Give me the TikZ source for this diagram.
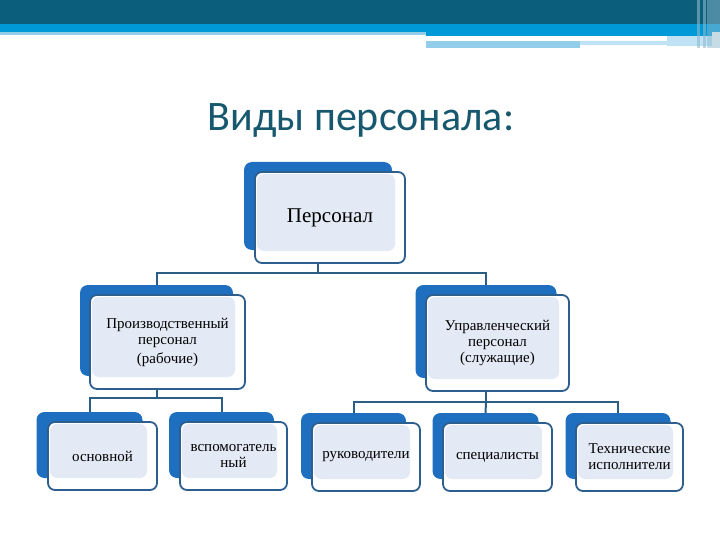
\documentclass[tikz,border=0pt]{standalone}
\usepackage{fontspec}
\setmainfont{Liberation Serif}
\newfontfamily\titlefont{Carlito}
\usetikzlibrary{positioning}
\pgfdeclarelayer{background}
\pgfsetlayers{background,main}
\definecolor{hdrdark}{HTML}{0B5F7C}
\definecolor{hdrblue}{HTML}{0099D8}
\definecolor{hdrlight}{HTML}{92CDEA}
\definecolor{hdrpale}{HTML}{BFE3F4}
\definecolor{hdrgray}{HTML}{8FB8CC}
\definecolor{titlecol}{HTML}{17586F}
\definecolor{backblue}{HTML}{1F6FC0}
\definecolor{frontline}{HTML}{2D5F8E}
\definecolor{lightfill}{HTML}{E3EAF5}
\definecolor{linkcol}{HTML}{2B5E84}
\tikzset{
  backbox/.style={fill=backblue, draw=none, rounded corners=8pt, inner sep=0pt},
  frontbox/.style={fill=white, draw=frontline, line width=1.8pt, rounded corners=7pt,
    inner sep=2pt, align=center, font=\fontsize{15}{16}\selectfont,
    path picture={\fill[lightfill] ([shift={(2pt,-2pt)}]path picture bounding box.north west)
      rectangle ([shift={(-10pt,12pt)}]path picture bounding box.south east);}},
  link/.style={draw=linkcol, line width=2pt}
}
\begin{document}
\begin{tikzpicture}[x=1pt,y=-1pt]
\useasboundingbox (0,0) rectangle (720,540);
% header
\fill[hdrdark] (0,0) rectangle (720,24);
\fill[hdrblue] (0,24) rectangle (720,32);
\fill[hdrlight] (0,32) rectangle (426,35);
\fill[hdrblue] (426,32) rectangle (712,36);
\fill[hdrpale] (667,36) rectangle (712,46);
\fill[hdrlight] (426,41) rectangle (580,48);
\fill[hdrpale] (580,41) rectangle (667,45);
\fill[hdrgray, opacity=0.6] (697,0) rectangle (700,48);
\fill[hdrgray, opacity=0.6] (703,0) rectangle (706,48);
\fill[hdrgray, opacity=0.5] (707,0) rectangle (720,48);
% title
\node[font=\titlefont\fontsize{42}{48}\selectfont, text=titlecol, anchor=base] (title) at (361,131) {Виды персонала:};
% level 0
\node[backbox, minimum width=148pt, minimum height=88pt] (P0b) at (318,206) {};
\node[frontbox, minimum width=150pt, minimum height=91pt, font=\fontsize{21}{23}\selectfont] (P0) at (330,217.5) {Персонал};
% level 1
\node[backbox, minimum width=153pt, minimum height=91pt] (P1b) at (156.5,330.5) {};
\node[frontbox, minimum width=155pt, minimum height=94pt] (P1) at (167.5,342) {Производственный\\персонал\\[3pt](рабочие)};
\node[backbox, minimum width=141pt, minimum height=93pt] (P2b) at (486,331.5) {};
\node[frontbox, minimum width=143pt, minimum height=96pt] (P2) at (497.5,343) {Управленческий\\персонал\\(служащие)};
% level 2
\node[backbox, minimum width=106pt, minimum height=66pt] (C1b) at (89.5,445) {};
\node[frontbox, minimum width=109pt, minimum height=68pt] (C1) at (102.5,456) {основной};
\node[backbox, minimum width=105pt, minimum height=66pt] (C2b) at (221.5,445) {};
\node[frontbox, minimum width=107pt, minimum height=68pt] (C2) at (233.5,456) {вспомогатель\\ный};
\node[backbox, minimum width=105pt, minimum height=66pt] (C3b) at (353.5,446) {};
\node[frontbox, minimum width=108pt, minimum height=68pt] (C3) at (366,457) {руководители};
\node[backbox, minimum width=106pt, minimum height=66pt] (C4b) at (485.5,446) {};
\node[frontbox, minimum width=109pt, minimum height=68pt] (C4) at (497.5,457) {специалисты};
\node[backbox, minimum width=105pt, minimum height=66pt] (C5b) at (618,446) {};
\node[frontbox, minimum width=107pt, minimum height=68pt] (C5) at (629.5,457) {Технические\\исполнители};
% connectors
\begin{pgfonlayer}{background}
\coordinate (J0) at (318,273);
\coordinate (J1) at (156.5,398);
\coordinate (J2) at (486,402);
\draw[link] (P0b.south) -- (J0) -| (P1b.north);
\draw[link] (J0) -| (P2b.north);
\draw[link] (P1b.south) -- (J1) -| (C1b.north);
\draw[link] (J1) -| (C2b.north);
\draw[link] (P2b.south) -- (J2) -| (C3b.north);
\draw[link] (J2) -- (C4b.north);
\draw[link] (J2) -| (C5b.north);
\end{pgfonlayer}
\end{tikzpicture}
\end{document}
